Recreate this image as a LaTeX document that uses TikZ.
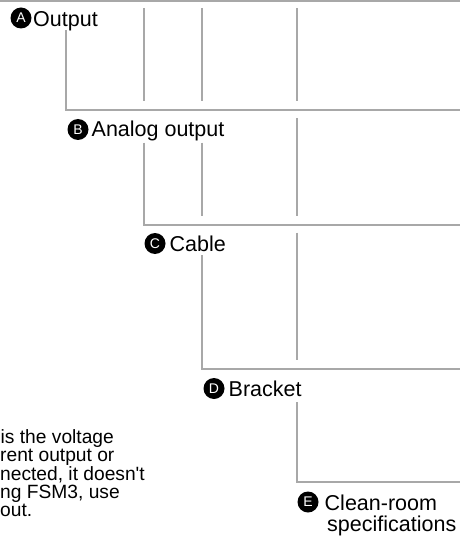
\documentclass[tikz,border=0pt]{standalone}
\usepackage{fontspec}
\newfontfamily\arial{Liberation Sans}
\begin{document}
\begin{tikzpicture}[x=1pt,y=-1pt,
  rule/.style={draw=black!34, line width=1.6pt},
  badge/.style={circle, fill=black, text=white, minimum size=21pt, inner sep=0pt, font=\arial\fontsize{14}{14}\selectfont},
  lbl/.style={anchor=base west, inner sep=0pt, font=\arial\fontsize{21.5}{21.5}\selectfont},
  body/.style={anchor=base west, inner sep=0pt, font=\arial\fontsize{19.2}{19.2}\selectfont}]
\useasboundingbox (0,0) rectangle (460,537);
% top rule
\coordinate (t0) at (0,0.8);
\coordinate (t1) at (460,0.8);
\draw[rule] (t0) -- (t1);
% labels
\node[badge] (cA) at (21,18) {A};
\node[lbl] (tA) at (33,26.3) {Output};
\node[badge] (cB) at (78,129.5) {B};
\node[lbl] (tB) at (91.5,137) {Analog output};
\node[badge] (cC) at (155,243.5) {C};
\node[lbl] (tC) at (169.5,251) {Cable};
\node[badge] (cD) at (214,388.5) {D};
\node[lbl] (tD) at (228.5,396) {Bracket};
\node[badge] (cE) at (308,502) {E};
\node[lbl] (tE1) at (324.5,510.5) {Clean-room};
\node[lbl] (tE2) at (327,531) {specifications};
% body text (clipped at left edge)
\node[body] (b1) at (0.5,443.5) {is the voltage};
\node[body] (b2) at (0,461.8) {rent output or};
\node[body] (b3) at (0,480.2) {nected, it doesn't};
\node[body] (b4) at (0,498.5) {ng FSM3, use};
\node[body] (b5) at (0,516.8) {out.};
% section A
\coordinate (a0) at (66,30);
\coordinate (a1) at (66,110);
\coordinate (a2) at (460,110);
\draw[rule] (a0) -- (a1) -- (a2);
\coordinate (p1) at (144,8);  \coordinate (q1) at (144,101);
\coordinate (p2) at (202,8);  \coordinate (q2) at (202,101);
\coordinate (p3) at (297,8);  \coordinate (q3) at (297,101);
\draw[rule] (p1) -- (q1);
\draw[rule] (p2) -- (q2);
\draw[rule] (p3) -- (q3);
% section B
\coordinate (b0c) at (144,142.7);
\coordinate (b1c) at (144,225);
\coordinate (b2c) at (460,225);
\draw[rule] (b0c) -- (b1c) -- (b2c);
\coordinate (p4) at (202,142.7); \coordinate (q4) at (202,216);
\coordinate (p5) at (297,118);   \coordinate (q5) at (297,216);
\draw[rule] (p4) -- (q4);
\draw[rule] (p5) -- (q5);
% section C
\coordinate (c0c) at (202,255);
\coordinate (c1c) at (202,369);
\coordinate (c2c) at (460,369);
\draw[rule] (c0c) -- (c1c) -- (c2c);
\coordinate (p6) at (297,232.7); \coordinate (q6) at (297,360);
\draw[rule] (p6) -- (q6);
% section D
\coordinate (d0c) at (297,402);
\coordinate (d1c) at (297,482);
\coordinate (d2c) at (460,482);
\draw[rule] (d0c) -- (d1c) -- (d2c);
\end{tikzpicture}
\end{document}
